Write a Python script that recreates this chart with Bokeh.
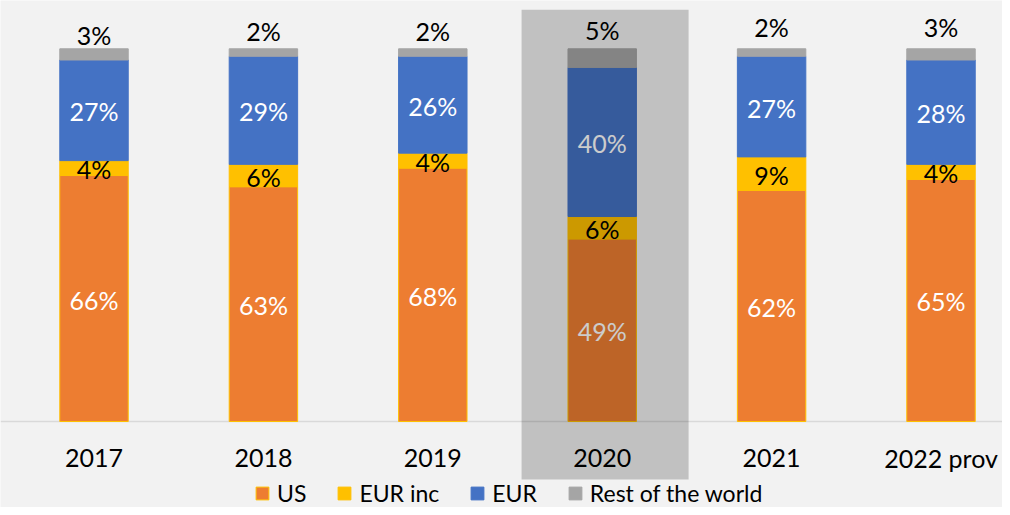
from bokeh.plotting import figure
from bokeh.models import (ColumnDataSource, Range1d, Span, BoxAnnotation,
                          Legend, LegendItem)
from bokeh.core.properties import value
from bokeh.embed import file_html
from bokeh.resources import INLINE

# ---- data -------------------------------------------------------------
years = ["2017", "2018", "2019", "2020", "2021", "2022 prov"]
us = [66, 63, 68, 49, 62, 65]
eur_inc = [4, 6, 4, 6, 9, 4]
eur = [27, 29, 26, 40, 27, 28]
rest = [3, 2, 2, 5, 2, 3]
series_names = ["US", "EUR inc", "EUR", "Rest of the world"]
highlight_year = "2020"

# ---- style ------------------------------------------------------------
BG = "#F2F2F2"
FONT = "Lato"
FS = "25px"
colors = ["#ED7D31", "#FFC000", "#4472C4", "#A5A5A5"]
outline = ["#FFC000", "#FFC000", "#4472C4", "#A5A5A5"]
label_colors = ["#FFFFFF", "#000000", "#FFFFFF", "#000000"]
top_label_lift = [4, 8, 8, 9, 12, 12]   # px above the bar for the top labels
BASE_SHIFT = -10                        # baseline correction (px)

xs = list(range(len(years)))
cols = ["us", "eur_inc", "eur", "rest"]
src = ColumnDataSource(dict(x=xs, us=us, eur_inc=eur_inc, eur=eur, rest=rest))

p = figure(width=1002, height=507, output_backend="svg", toolbar_location=None,
           tools="", x_axis_type=None, y_axis_type=None,
           x_range=Range1d(-0.552, 5.363), y_range=Range1d(-23.07, 112.96),
           min_border=0, outline_line_color=None,
           background_fill_color=BG, border_fill_color=BG)
p.xgrid.visible = False
p.ygrid.visible = False

# baseline axis line
p.add_layout(Span(location=0, dimension="width", line_color="#D9D9D9",
                  line_width=1.5, level="underlay"))

renderers = p.vbar_stack(cols, x="x", width=0.404, source=src,
                         fill_color=colors, line_color=outline, line_width=1)

# ---- in-segment labels -------------------------------------------------
lx, ly, lt, lc = [], [], [], []
series = [us, eur_inc, eur]
for i in xs:
    base = 0
    for s_i, s in enumerate(series):
        v = s[i]
        lx.append(i)
        ly.append(base + v / 2)
        lt.append(f"{v}%")
        lc.append(label_colors[s_i])
        base += v
p.text(x=lx, y=ly, text=lt, text_color=lc, text_font=value(FONT),
       text_font_size=FS, text_align="center", text_baseline="alphabetic",
       y_offset=11 + BASE_SHIFT)

# top labels (rest of the world) above the bars
tops = [us[i] + eur_inc[i] + eur[i] + rest[i] for i in xs]
p.text(x=xs, y=tops, text=[f"{v}%" for v in rest], text_color="#000000",
       text_font=value(FONT), text_font_size=FS, text_align="center",
       text_baseline="alphabetic",
       y_offset=[-l + BASE_SHIFT for l in top_label_lift])

# category labels
p.text(x=xs, y=[0] * len(xs), text=years, text_color="#000000",
       text_font=value(FONT), text_font_size=FS, text_align="center",
       text_baseline="alphabetic", y_offset=46 + BASE_SHIFT)

# highlight overlay
hi = years.index(highlight_year)
p.add_layout(BoxAnnotation(left=hi + 0.017 - 0.493, right=hi + 0.017 + 0.493,
                           bottom=-15.56, top=110.5, fill_color="#000000",
                           fill_alpha=0.2, line_color=None))

legend = Legend(items=[LegendItem(label=n, renderers=[r])
                       for n, r in zip(series_names, renderers)],
                orientation="horizontal", location=(254, 0),
                glyph_width=16, glyph_height=16, label_standoff=7, spacing=30,
                label_text_font=FONT, label_text_font_size="23px",
                label_text_color="#000000", padding=0, margin=0,
                border_line_color=None, background_fill_alpha=0)
p.add_layout(legend)

open("out.html", "w").write(file_html(p, INLINE))
